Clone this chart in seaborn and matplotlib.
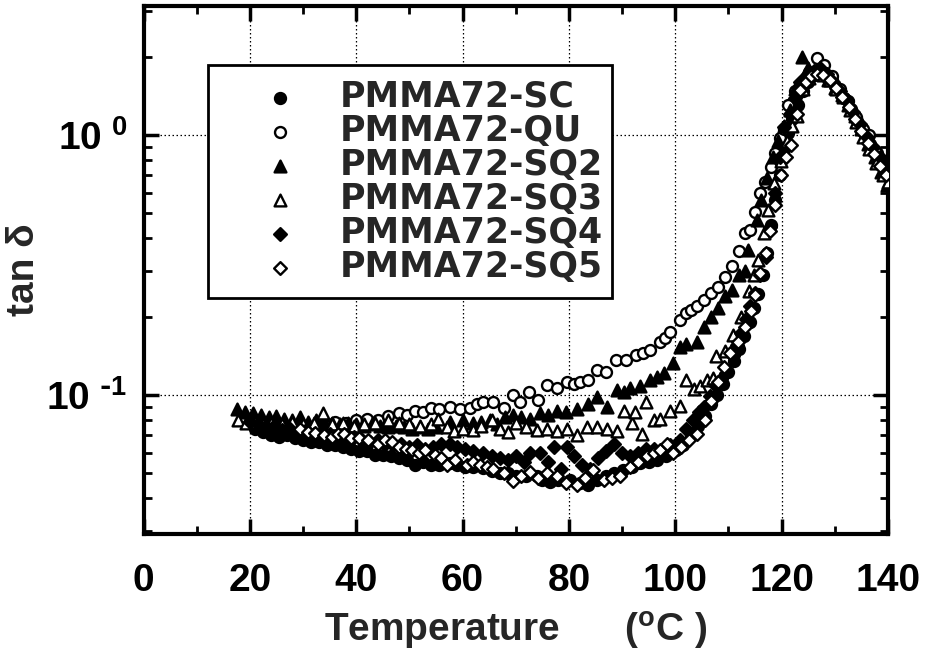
import matplotlib
matplotlib.use("Agg")
import matplotlib.pyplot as plt
from matplotlib.ticker import FixedLocator, NullFormatter, MultipleLocator
from matplotlib.font_manager import FontProperties
import pandas as pd
import seaborn as sns

sns.set_style("ticks")
plt.rcParams["font.family"] = ["Liberation Sans", "DejaVu Sans"]
plt.rcParams["font.weight"] = "bold"
plt.rcParams["mathtext.default"] = "regular"

# ---------------- data ----------------
T_SC = [21, 22.5, 24, 25.5, 27, 28.5, 30, 31.5, 33, 34.5, 36, 37.5, 39, 40.5, 42, 43.5, 45, 46.5, 48, 49.5,
        51, 52.5, 54, 55.5, 57.6, 59, 60.5, 62, 63.9, 65.5, 67, 68.5, 70.1, 72, 73.9, 75, 76.4, 78, 80.2, 82,
        83.6, 85.3, 87, 88.5, 90.2, 91.8, 93.3, 95, 96.5, 98.2, 100.2, 101.5, 103, 104.3, 105.5, 106.7, 107.8,
        109, 110, 111, 112, 113, 114, 114.8, 115.6, 116.4, 117.2, 118, 118.8, 119.6, 120.4, 121.2, 122, 123,
        124, 125, 126, 127, 128.2, 129.4, 130.6, 131.8, 133, 134.2, 135.4, 136.6, 137.8, 139, 140]
V_SC = [0.074, 0.072, 0.070, 0.069, 0.070, 0.068, 0.067, 0.066, 0.066, 0.064, 0.064, 0.063, 0.062, 0.061,
        0.061, 0.059, 0.059, 0.058, 0.057, 0.056, 0.054, 0.055, 0.054, 0.054, 0.0548, 0.054, 0.053, 0.053,
        0.0525, 0.051, 0.050, 0.050, 0.0487, 0.049, 0.0487, 0.047, 0.0464, 0.047, 0.047, 0.046, 0.0451, 0.047,
        0.0487, 0.050, 0.0515, 0.053, 0.0548, 0.055, 0.056, 0.058, 0.0616, 0.064, 0.070, 0.076, 0.083, 0.092,
        0.100, 0.110, 0.122, 0.135, 0.150, 0.168, 0.190, 0.215, 0.245, 0.290, 0.350, 0.450, 0.560, 0.700,
        0.880, 1.02, 1.15, 1.30, 1.48, 1.60, 1.70, 1.75, 1.70, 1.62, 1.50, 1.38, 1.26, 1.13, 1.02, 0.92, 0.84,
        0.77, 0.72]

T_QU = [34, 36, 38, 40, 42, 44, 46, 48, 49.5, 51, 52.5, 54, 55.5, 57.6, 59.5, 61.4, 62.7, 63.9, 65.8, 67.7,
        69.5, 70.8, 72.4, 74.2, 75.8, 77.7, 79.6, 81, 82.1, 83.6, 85.2, 87, 88.9, 90.8, 92.7, 94, 95.2, 97.1,
        98, 99, 100.9, 102.1, 103, 104, 105.3, 106.8, 108, 109.4, 110.6, 111.9, 113.1, 114, 115, 115.9, 116.9,
        118, 118.8, 119.7, 120.5, 121.2, 122.5, 124, 125.2, 126.6, 128, 129.5, 131, 132.5, 134, 135.3, 136.5,
        138, 139.5]
V_QU = [0.077, 0.079, 0.078, 0.080, 0.081, 0.080, 0.083, 0.085, 0.084, 0.087, 0.086, 0.089, 0.088, 0.090,
        0.088, 0.089, 0.092, 0.094, 0.094, 0.089, 0.100, 0.094, 0.103, 0.0955, 0.109, 0.106, 0.112, 0.110,
        0.112, 0.114, 0.125, 0.123, 0.136, 0.136, 0.142, 0.145, 0.149, 0.160, 0.165, 0.175, 0.194, 0.206,
        0.212, 0.219, 0.232, 0.246, 0.260, 0.285, 0.312, 0.356, 0.420, 0.430, 0.507, 0.597, 0.660, 0.750,
        0.850, 0.970, 1.05, 1.30, 1.47, 1.60, 1.75, 1.97, 1.85, 1.68, 1.50, 1.35, 1.17, 1.05, 1.00, 0.85, 0.74]

T_SQ2 = [17.5, 19, 20.5, 22, 23.5, 25, 26.5, 28, 29.5, 31, 32.5, 34, 35.5, 37, 38.5, 40, 41.5, 43, 44.5, 46,
         47.5, 49, 50.5, 52, 53.5, 55, 57.6, 60.1, 62, 63.5, 65.2, 66.5, 68, 69.5, 71, 72.7, 74.5, 76, 77.7,
         79.5, 81.5, 83.5, 85.2, 87.1, 89, 90.3, 91.5, 93.3, 95.2, 96.5, 97.8, 99.6, 100.9, 102.1, 104, 105.3,
         106.8, 108, 109.4, 110.6, 111.9, 113.1, 113.7, 115.3, 116.2, 117.3, 118.4, 119.4, 120.5, 121.5, 122.5,
         123.8, 125, 126.3, 127.5, 128.8, 130, 131.3, 132.5, 133.7, 135, 136.2, 137.5, 138.7, 139.8]
V_SQ2 = [0.088, 0.086, 0.085, 0.084, 0.082, 0.083, 0.081, 0.080, 0.082, 0.079, 0.080, 0.079, 0.078, 0.077,
         0.078, 0.077, 0.076, 0.077, 0.076, 0.075, 0.076, 0.075, 0.074, 0.075, 0.074, 0.075, 0.079, 0.080,
         0.078, 0.079, 0.080, 0.077, 0.082, 0.0838, 0.082, 0.081, 0.085, 0.084, 0.087, 0.086, 0.088, 0.092,
         0.0985, 0.090, 0.104, 0.103, 0.106, 0.108, 0.114, 0.117, 0.121, 0.133, 0.153, 0.157, 0.160, 0.183,
         0.200, 0.216, 0.239, 0.253, 0.290, 0.300, 0.361, 0.471, 0.562, 0.680, 0.820, 0.950, 1.08, 1.25, 1.50,
         2.00, 1.80, 1.76, 1.72, 1.63, 1.52, 1.42, 1.30, 1.18, 1.05, 0.92, 0.82, 0.72, 0.64]

T_SQ3 = [17.8, 19.3, 21, 22.5, 24, 26, 28, 30, 32, 33.7, 35.5, 37.5, 39.5, 41.5, 43.5, 46, 48, 50, 52, 54,
         55.4, 57, 58.3, 60, 62, 63.5, 65.5, 67, 68.5, 70.1, 72, 74, 75.8, 77.7, 79.6, 81.5, 83.4, 85.2, 87.2,
         89, 90.3, 91.9, 92.5, 93.8, 94.4, 96, 97.1, 99, 100.9, 102.1, 103.5, 104.6, 105.9, 107.1, 107.7, 109.3,
         110.8, 112.4, 113.8, 114.8, 115.6, 116.6, 117.5, 118.5, 119.9, 121, 122, 122.8, 124, 125.2, 126.5,
         127.8, 129, 130.3, 131.5, 132.8, 134, 135.3, 136.5, 137.8, 139, 140]
V_SQ3 = [0.080, 0.078, 0.079, 0.077, 0.078, 0.077, 0.079, 0.077, 0.078, 0.085, 0.077, 0.078, 0.076, 0.077,
         0.078, 0.080, 0.078, 0.077, 0.076, 0.077, 0.081, 0.075, 0.0726, 0.074, 0.073, 0.076, 0.080, 0.074,
         0.072, 0.078, 0.0755, 0.073, 0.074, 0.0726, 0.074, 0.070, 0.0755, 0.0755, 0.074, 0.0726, 0.087, 0.078,
         0.086, 0.071, 0.094, 0.080, 0.081, 0.087, 0.0905, 0.114, 0.105, 0.108, 0.114, 0.116, 0.141, 0.147,
         0.170, 0.200, 0.250, 0.290, 0.331, 0.420, 0.515, 0.650, 0.790, 0.950, 1.08, 1.18, 1.50, 1.65, 1.75,
         1.70, 1.62, 1.50, 1.40, 1.25, 1.12, 0.98, 0.88, 0.78, 0.70, 0.66]

T_SQ4 = [20, 21.5, 23, 24.5, 26, 27.5, 29, 30.5, 32, 33.5, 35, 36.5, 38, 39.5, 41, 42.5, 44, 45.5, 47, 48.5,
         50, 51.5, 53, 54.5, 56, 57.6, 59, 60.5, 62, 63.9, 65.5, 67, 68.5, 70.1, 71.5, 72.7, 74.6, 76, 77.1,
         78.5, 79.6, 81, 82.5, 84, 85.5, 87, 88.5, 90, 91.5, 93, 94.5, 96, 97.5, 99, 100.9, 102, 103.4, 104.5,
         105.3, 106.5, 107.7, 108.6, 109.6, 110.8, 111.6, 112.4, 113.2, 114, 115, 116, 117.1, 117.8, 118.7,
         119.6, 120.5, 121.5, 122.5, 123.5, 124.7, 126, 127.3, 128.5, 129.7, 131, 132.2, 133.5, 134.7, 136,
         137.2, 138.5, 139.7]
V_SQ4 = [0.079, 0.077, 0.075, 0.076, 0.073, 0.074, 0.072, 0.073, 0.071, 0.070, 0.071, 0.069, 0.068, 0.069,
         0.067, 0.066, 0.067, 0.065, 0.064, 0.065, 0.063, 0.064, 0.062, 0.063, 0.065, 0.065, 0.063, 0.062,
         0.061, 0.060, 0.058, 0.057, 0.056, 0.058, 0.055, 0.0597, 0.0597, 0.055, 0.063, 0.052, 0.063, 0.058,
         0.054, 0.052, 0.057, 0.061, 0.065, 0.060, 0.058, 0.060, 0.062, 0.062, 0.060, 0.064, 0.067, 0.074,
         0.080, 0.086, 0.090, 0.099, 0.108, 0.115, 0.121, 0.141, 0.155, 0.173, 0.195, 0.219, 0.246, 0.290,
         0.340, 0.444, 0.600, 0.820, 1.076, 1.20, 1.38, 1.60, 1.70, 1.76, 1.80, 1.72, 1.60, 1.48, 1.36, 1.22,
         1.10, 0.98, 0.90, 0.82, 0.76]

T_SQ5 = [29.5, 31, 32.2, 34, 35.4, 36.5, 37.7, 39, 40.5, 42.3, 44, 45.5, 46.7, 48, 49.3, 50.5, 51.8, 53, 54.9,
         56, 57.1, 58.5, 60.8, 62, 63.3, 64.5, 65.8, 67.7, 69.5, 71, 72.7, 74.2, 75.8, 77.7, 79.5, 81.5, 83,
         84.6, 86.5, 88, 89.6, 91.5, 93, 94.6, 96, 97.1, 98.4, 99.5, 101, 102.5, 104.1, 105.5, 106.8, 108,
         109.1, 110.3, 111.7, 113.1, 114.2, 115, 115.9, 117.1, 117.8, 118.7, 119.8, 120.8, 121.8, 122.8, 123.4,
         124.5, 125.5, 126.6, 127.8, 129, 130.2, 131.4, 132.6, 133.8, 135, 136.2, 137.4, 138.5, 139.6]
V_SQ5 = [0.074, 0.072, 0.0715, 0.070, 0.069, 0.071, 0.0705, 0.068, 0.068, 0.0668, 0.065, 0.067, 0.066, 0.063,
         0.062, 0.0613, 0.060, 0.0613, 0.0587, 0.057, 0.0538, 0.056, 0.0538, 0.055, 0.054, 0.053, 0.052, 0.050,
         0.0465, 0.049, 0.0507, 0.048, 0.050, 0.0487, 0.046, 0.045, 0.048, 0.0515, 0.047, 0.048, 0.049, 0.053,
         0.055, 0.058, 0.060, 0.0616, 0.065, 0.060, 0.063, 0.067, 0.071, 0.080, 0.095, 0.112, 0.128, 0.145,
         0.160, 0.183, 0.210, 0.242, 0.294, 0.350, 0.425, 0.538, 0.700, 0.820, 0.915, 1.20, 1.49, 1.60, 1.68,
         1.72, 1.70, 1.62, 1.52, 1.40, 1.28, 1.15, 1.03, 0.93, 0.84, 0.76, 0.70]

LABELS = ["PMMA72-SC", "PMMA72-QU", "PMMA72-SQ2", "PMMA72-SQ3", "PMMA72-SQ4", "PMMA72-SQ5"]
X_TICKS = [0, 20, 40, 60, 80, 100, 120, 140]
Y_TICKS = [0.1, 1.0]
Y_TICKLABELS = [r"$\mathregular{10^{\ \text{-}1}}$", r"$\mathregular{10^{\ 0}}$"]
Y_MINOR = [0.03, 0.04, 0.05, 0.06, 0.07, 0.08, 0.09, 0.2, 0.3, 0.4, 0.5, 0.6, 0.7, 0.8, 0.9, 2, 3]

# ---------------- figure ----------------
fig = plt.figure(figsize=(9.29, 6.56), dpi=100)
ax = fig.add_axes([0.1545, 0.186, 0.8014, 0.805])

series = [
    (T_SC, V_SC, "o", "black", 62),
    (T_QU, V_QU, "o", "white", 62),
    (T_SQ2, V_SQ2, "^", "black", 72),
    (T_SQ3, V_SQ3, "^", "white", 72),
    (T_SQ4, V_SQ4, "D", "black", 42),
    (T_SQ5, V_SQ5, "D", "white", 42),
]
for (t, v, m, fc, s), name in zip(series, LABELS):
    df = pd.DataFrame({"T": t, "tan": v})
    sns.scatterplot(data=df, x="T", y="tan", marker=m, s=s, color=fc, edgecolor="black",
                    linewidth=1.7, label=name, ax=ax, zorder=3)

ax.set_yscale("log")
ax.set_xlim(0, 140)
ax.set_ylim(0.0292, 3.13)

ax.set_xticks(X_TICKS)
ax.set_xticklabels([str(x) for x in X_TICKS])
ax.xaxis.set_minor_locator(MultipleLocator(10))
ax.yaxis.set_major_locator(FixedLocator(Y_TICKS))
ax.set_yticklabels(Y_TICKLABELS)
ax.yaxis.set_minor_locator(FixedLocator(Y_MINOR))
ax.yaxis.set_minor_formatter(NullFormatter())

ax.grid(True, which="major", linestyle=(0, (1.2, 2.0)), color="black", linewidth=0.9)
ax.set_axisbelow(True)

ax.tick_params(which="both", direction="in", top=True, right=True, colors="black")
ax.tick_params(which="major", length=11, width=2.5, labelsize=28)
ax.tick_params(which="minor", length=6, width=2)
ax.tick_params(axis="x", pad=21)
ax.tick_params(axis="y", pad=12)
for lab in ax.get_xticklabels() + ax.get_yticklabels():
    lab.set_fontweight("bold")

for sp in ax.spines.values():
    sp.set_linewidth(3)
    sp.set_color("black")

ax.set_xlabel(r"Temperature      ($\mathregular{^o}$C )", fontsize=28, fontweight="bold", labelpad=8)
ax.set_ylabel("tan δ", fontsize=28, fontweight="bold")
ax.yaxis.set_label_coords(-0.137, 0.5)

leg = ax.legend(loc="upper left", bbox_to_anchor=(0.0866, 0.447, 0.5424, 0.441), mode="expand",
                borderaxespad=0, prop=FontProperties(family="DejaVu Sans", weight="bold", size=25),
                labelspacing=0.0, handlelength=3.3, handletextpad=0.08, borderpad=0.42,
                frameon=True, fancybox=False, edgecolor="black", framealpha=1, shadow=False)
leg.get_frame().set_linewidth(2)
leg.set_zorder(5)

fig.savefig("out.png", dpi=100)
